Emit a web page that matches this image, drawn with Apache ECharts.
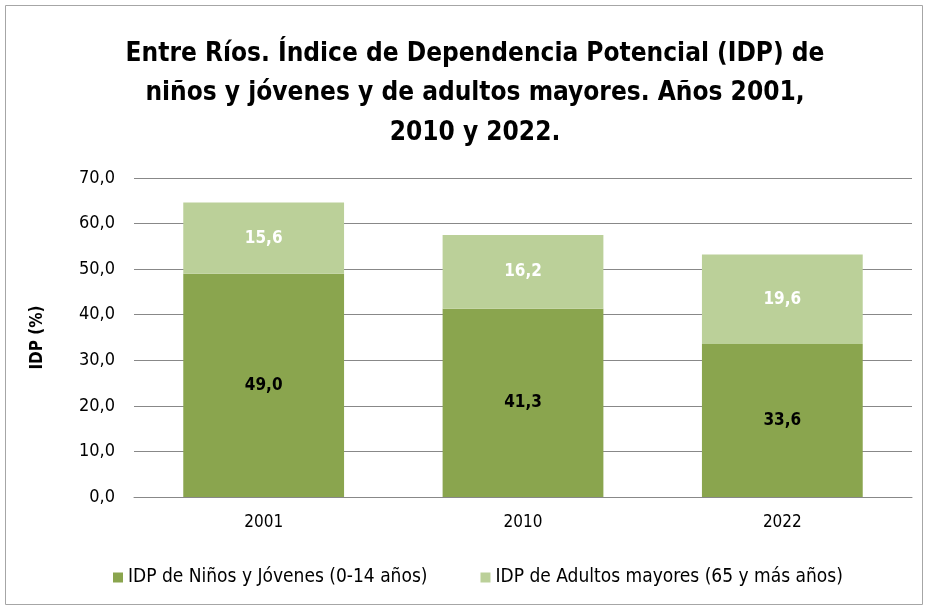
<!DOCTYPE html>
<html>
<head>
<meta charset="utf-8">
<script src="https://cdn.jsdelivr.net/npm/echarts@6/dist/echarts.min.js"></script>
<style>
  html, body { margin: 0; padding: 0; background: #fff; }
  #chart { width: 928px; height: 610px; }
</style>
</head>
<body>
<div id="chart"></div>
<script>
// datos
var anios = ['2001', '2010', '2022'];
var ninosJovenes = [49.0, 41.3, 33.6];
var adultosMayores = [15.6, 16.2, 19.6];
var nombres = ['IDP de Niños y Jóvenes (0-14 años)', 'IDP de Adultos mayores (65 y más años)'];

var fuente = "'Liberation Sans Narrow', 'DejaVu Sans Condensed', 'Liberation Sans', sans-serif";

var chart = echarts.init(document.getElementById('chart'), null, { renderer: 'canvas' });

function coma(v) {
  return v.toFixed(1).replace('.', ',');
}

var option = {
  backgroundColor: '#fff',
  animation: false,
  graphic: [{
    type: 'rect',
    shape: { x: 5.5, y: 5.5, width: 917, height: 599 },
    style: { fill: 'none', stroke: '#a6a6a6', lineWidth: 1 }
  }],
  title: {
    text: 'Entre Ríos. Índice de Dependencia Potencial (IDP) de\nniños y jóvenes y de adultos mayores. Años 2001,\n2010 y 2022.',
    left: 470, // el titulo esta un poco corrido a la derecha
    textAlign: 'center',
    top: 29,
    textStyle: {
      fontFamily: fuente,
      fontSize: 26,
      fontWeight: 'bold',
      color: '#000',
      lineHeight: 39.5
    }
  },
  legend: {
    bottom: 18,
    left: 108,
    itemGap: 53,
    itemWidth: 10,
    itemHeight: 10,
    icon: 'rect',
    textStyle: { fontFamily: fuente, fontSize: 19, color: '#000' },
    data: nombres
  },
  grid: {
    left: 134,
    right: 16,
    top: 178,
    height: 319
  },
  xAxis: {
    type: 'category',
    data: anios,
    axisLine: { lineStyle: { color: '#888' } },
    axisTick: { show: false },
    axisLabel: { fontFamily: fuente, fontSize: 17, color: '#000', margin: 17 }
  },
  yAxis: {
    type: 'value',
    min: 0,
    max: 70,
    interval: 10,
    name: 'IDP (%)',
    nameLocation: 'middle',
    nameRotate: 90,
    nameGap: 88,
    nameTextStyle: { fontFamily: fuente, fontSize: 17, fontWeight: 'bold', color: '#000' },
    axisLine: { show: false },
    axisTick: { show: false },
    splitLine: { lineStyle: { color: '#888' } },
    axisLabel: {
      fontFamily: fuente, fontSize: 18, color: '#000', margin: 19,
      formatter: function (v) { return coma(v); }
    }
  },
  series: [{
    name: nombres[0],
    type: 'bar',
    stack: 'idp',
    barWidth: '62%',
    data: ninosJovenes,
    itemStyle: { color: '#8aa54e' },
    label: {
      show: true,
      position: 'inside',
      fontFamily: fuente, fontSize: 17, fontWeight: 'bold', color: '#000',
      formatter: function (p) { return coma(p.value); }
    }
  }, {
    name: nombres[1],
    type: 'bar',
    stack: 'idp',
    data: adultosMayores,
    itemStyle: { color: '#bbd099' },
    label: {
      show: true,
      position: 'inside',
      fontFamily: fuente, fontSize: 17, fontWeight: 'bold', color: '#fff',
      formatter: function (p) { return coma(p.value); }
    }
  }]
};

chart.setOption(option);
</script>
</body>
</html>
